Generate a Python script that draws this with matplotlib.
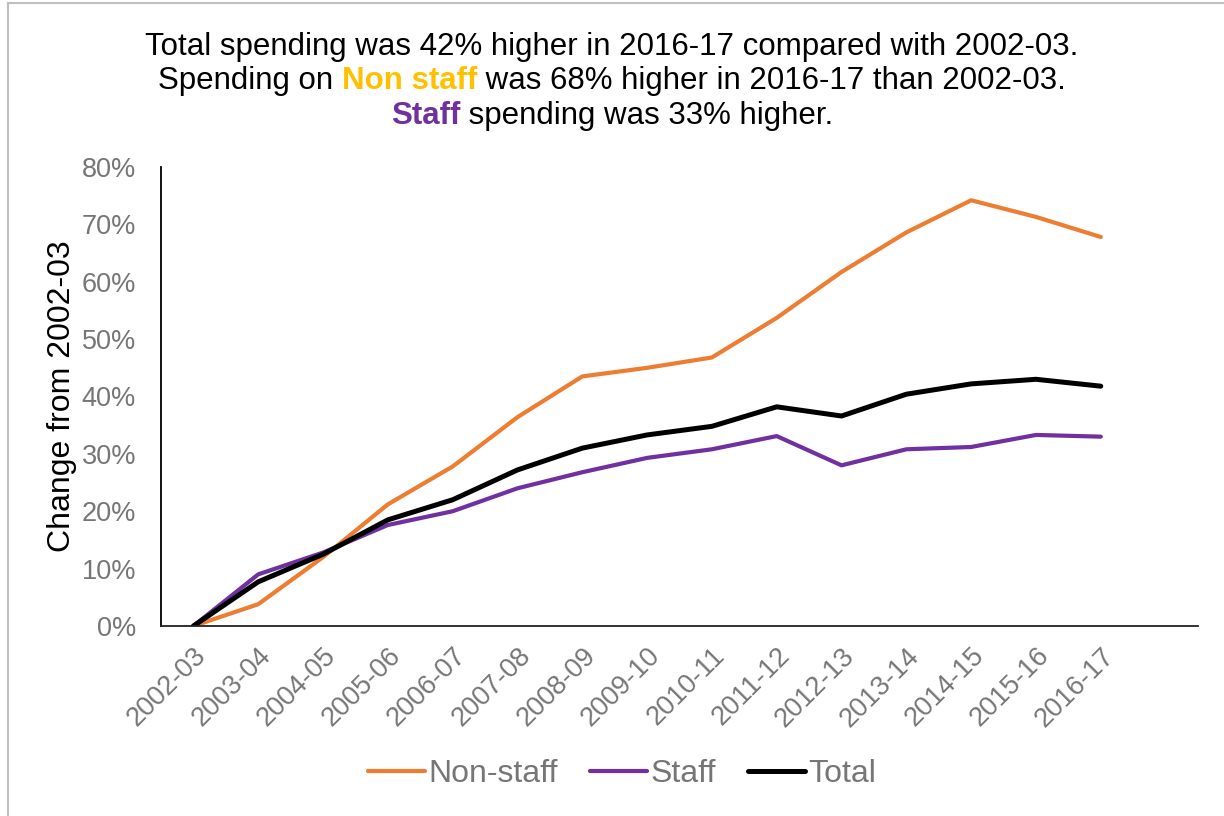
import matplotlib
matplotlib.use('Agg')
import matplotlib.pyplot as plt
from matplotlib.ticker import FuncFormatter
from matplotlib.lines import Line2D

years = ['2002-03', '2003-04', '2004-05', '2005-06', '2006-07', '2007-08',
         '2008-09', '2009-10', '2010-11', '2011-12', '2012-13', '2013-14',
         '2014-15', '2015-16', '2016-17']
non_staff = [0, 3.8, 12.0, 21.2, 27.8, 36.4, 43.5, 45.0, 46.8, 53.7, 61.7, 68.6, 74.2, 71.3, 67.8]
staff = [0, 9.0, 12.8, 17.6, 20.0, 24.0, 26.8, 29.3, 30.8, 33.1, 28.0, 30.8, 31.2, 33.3, 33.0]
total = [0, 7.7, 12.5, 18.5, 22.0, 27.2, 31.0, 33.3, 34.8, 38.2, 36.6, 40.4, 42.2, 43.0, 41.8]

plt.rcParams['font.family'] = ['Liberation Sans', 'DejaVu Sans']
grey = '#767676'

fig = plt.figure(figsize=(12.24, 8.16), dpi=100)
ax = fig.add_axes([161/1224, 1 - 626/816, (1198-161)/1224, (626-167)/816])

x = list(range(len(years)))
ax.plot(x, non_staff, color='#ED7D31', lw=3.0, label='Non-staff', solid_capstyle='round')
ax.plot(x, staff, color='#7030A0', lw=3.0, label='Staff', solid_capstyle='round')
ax.plot(x, total, color='black', lw=3.6, label='Total', solid_capstyle='round')

ax.set_xlim(-0.5, 15.5)
ax.set_ylim(0, 80)
ax.set_yticks(range(0, 81, 10))
ax.yaxis.set_major_formatter(FuncFormatter(lambda v, p: f'{int(v)}%'))
ax.set_xticks(x)
ax.set_xticklabels(years, rotation=45, ha='right', rotation_mode='anchor')
ax.tick_params(length=0, labelsize=19.5, colors=grey)
ax.tick_params(axis='y', pad=18)
ax.tick_params(axis='x', pad=12)
for s in ['top', 'right']:
    ax.spines[s].set_visible(False)
ax.spines['left'].set_linewidth(1.3)
ax.spines['bottom'].set_linewidth(1.3)
ax.spines['bottom'].set_color('#222222')

ax.set_ylabel('Change from 2002-03', fontsize=23, color='black', labelpad=3)

leg = ax.legend(loc='center', bbox_to_anchor=(0.5 + 10/1224, 1 - 774/816), bbox_transform=fig.transFigure,
                ncol=3, frameon=False, fontsize=23, handlelength=1.8, handletextpad=0.1,
                columnspacing=1.0)
for t in leg.get_texts():
    t.set_color(grey)

# title with coloured words
lines = [
    [('Total spending was 42% higher in 2016-17 compared with 2002-03.', 'black', 'normal')],
    [('Spending on ', 'black', 'normal'), ('Non staff', '#FFC000', 'bold'),
     (' was 68% higher in 2016-17 than 2002-03.', 'black', 'normal')],
    [('Staff', '#7030A0', 'bold'), (' spending was 33% higher.', 'black', 'normal')],
]
ys = [47, 81, 116]
renderer = fig.canvas.get_renderer()
for parts, yy in zip(lines, ys):
    texts = []
    widths = []
    for s, c, w in parts:
        t = fig.text(0, 1 - yy/816, s, color=c, fontweight=w, fontsize=22.5, va='center', ha='left')
        widths.append(t.get_window_extent(renderer).width)
        texts.append(t)
    start = 612 - sum(widths) / 2
    for t, w in zip(texts, widths):
        t.set_x(start / 1224)
        start += w

# chart area border
fig.add_artist(Line2D([8/1224, 8/1224], [0, 1 - 3/816], color='#BFBFBF', lw=1.5))
fig.add_artist(Line2D([8/1224, 1], [1 - 3/816, 1 - 3/816], color='#BFBFBF', lw=1.5))

fig.savefig('out.png', dpi=100)
